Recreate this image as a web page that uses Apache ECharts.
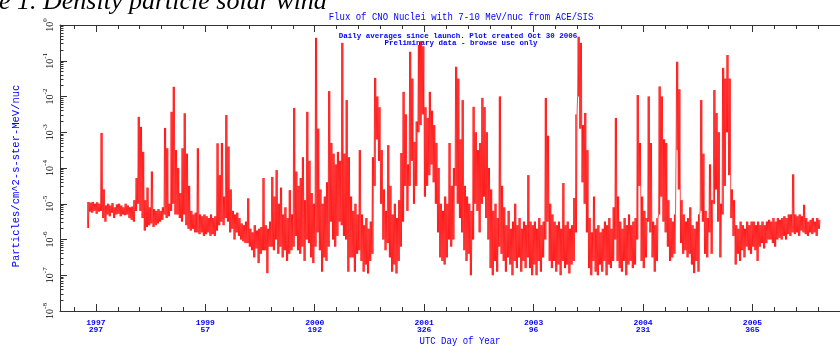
<!DOCTYPE html>
<html>
<head>
<meta charset="UTF-8">
<title>Flux of CNO Nuclei</title>
<script src="https://cdn.jsdelivr.net/npm/echarts@6.0.0/dist/echarts.min.js"></script>
<style>
    html, body { margin: 0; padding: 0; background: #fff; }
    #chart { width: 840px; height: 347px; }
</style>
</head>
<body>
<div id="chart"></div>
<script>
    // x unit = days, 500 is the first labelled tick
    var tickDays = [500, 1000, 1500, 2000, 2500, 3000, 3500];
    var tickYears = ['1997', '1999', '2000', '2001', '2003', '2004', '2005'];
    var tickDoy = ['297', '57', '192', '326', '96', '231', '365'];

    // log10 of daily flux, high / low per 10 day bin, first bin at day 460
    var binStart = 460;
    var binStep = 10;

    var hi1 = [-4.95,-4.97,-4.95,-5.0,-4.96,-5.0,-3.02,-4.6,-5.05,-5.0,
        -5.05,-4.98,-5.1,-5.02,-5.0,-5.05,-5.1,-5.0,-5.05,-5.1,
        -5.08,-4.9,-4.28,-2.57,-2.85,-3.55,-4.9,-4.55,-5.1,-4.1,
        -5.15,-5.2,-5.15,-5.2,-5.1,-2.88,-3.45,-5.0,-2.43,-1.73,
        -3.5,-4.0,-4.7,-3.45,-2.47,-3.6,-4.5,-5.2,-5.3,-5.25,
        -3.45,-5.3,-5.35,-5.3];
    var lo1 = [-5.68,-5.22,-5.25,-5.2,-5.28,-5.22,-5.2,-5.4,-5.5,-5.3,
        -5.35,-5.25,-5.4,-5.3,-5.28,-5.35,-5.3,-5.32,-5.3,-5.4,
        -5.45,-5.5,-5.2,-5.0,-5.2,-5.4,-5.75,-5.65,-5.6,-5.55,
        -5.65,-5.6,-5.55,-5.5,-5.45,-5.3,-5.4,-5.35,-5.2,-5.0,
        -5.3,-5.3,-5.4,-5.5,-5.3,-5.6,-5.7,-5.75,-5.7,-5.8,
        -5.8,-5.85,-5.8,-5.9];

    var hi2 = [-5.35,-5.4,-5.3,-5.4,-5.35,-3.31,-4.2,-3.3,-4.8,-2.52,
        -3.4,-4.6,-5.2,-5.3,-5.25,-5.4,-5.55,-5.6,-5.5,-4.85,
        -5.7,-5.8,-5.6,-5.75,-5.7,-5.65,-4.28,-5.6,-5.7,-5.5,
        -4.25,-4.8,-4.06,-5.0,-4.55,-5.3,-5.1,-5.4,-4.62,-5.3,
        -2.32,-4.1,-4.5,-4.28,-3.7,-4.9,-2.43,-3.8,-4.7,-5.0];
    var lo2 = [-5.85,-5.8,-5.9,-5.85,-5.9,-5.75,-5.6,-5.5,-5.6,-5.4,
        -5.5,-5.8,-5.7,-6.0,-5.8,-5.9,-6.0,-6.05,-6.1,-6.1,
        -6.2,-6.3,-6.5,-6.25,-6.66,-6.4,-6.3,-6.3,-6.94,-6.2,
        -6.2,-6.3,-6.0,-6.4,-6.2,-6.5,-6.3,-6.6,-6.4,-6.3,
        -6.2,-5.9,-6.3,-6.4,-6.2,-6.6,-6.0,-6.1,-6.5,-6.66];

    var hi3 = [-0.36,-2.9,-4.6,-5.0,-4.8,-4.4,-1.85,-3.3,-3.6,-3.9,
        -3.55,-3.8,-0.5,-3.6,-2.1,-3.7,-4.8,-5.2,-5.0,-5.3,
        -3.5,-5.3,-5.6,-5.4,-5.7,-5.5,-3.7,-1.48,-2.0,-2.3,
        -3.5,-4.6,-5.2,-3.36,-4.5,-5.3,-5.0,-5.4,-4.9,-3.58,
        -1.87,-2.5,-3.9,-0.75,-1.5,-3.27,-2.7,-0.56,-0.45,-0.6];
    var lo3 = [-6.2,-5.8,-6.3,-6.9,-6.5,-6.6,-6.2,-5.5,-6.0,-6.2,
        -5.9,-5.5,-5.6,-5.9,-6.0,-6.9,-6.5,-6.5,-6.9,-6.4,
        -6.3,-6.6,-6.9,-6.7,-6.95,-6.6,-6.4,-4.5,-3.2,-3.8,
        -5.0,-6.0,-6.3,-6.1,-6.5,-6.9,-6.7,-6.95,-6.6,-6.2,
        -5.5,-4.5,-5.2,-4.5,-3.8,-5.0,-4.5,-3.0,-2.8,-2.5];

    var hi4 = [-2.3,-2.6,-1.87,-2.4,-2.8,-3.3,-4.0,-5.0,-5.2,-4.8,
        -5.0,-3.3,-4.5,-4.0,-1.17,-1.5,-3.2,-2.1,-4.5,-4.8,
        -5.0,-5.2,-2.29,-3.0,-3.5,-3.3,-2.04,-2.3,-3.0,-4.0,
        -4.6,-5.2,-5.0,-5.4,-2.0,-4.5,-5.1,-5.6,-5.2,-5.7,
        -5.5,-5.0,-5.6,-5.4,-5.7,-5.5,-5.6,-4.2,-5.5,-5.6];
    var lo4 = [-4.8,-4.5,-4.2,-3.9,-4.4,-5.0,-5.8,-6.5,-6.6,-6.7,
        -6.5,-6.0,-6.2,-6.0,-4.5,-5.0,-5.4,-5.8,-6.3,-6.6,
        -6.4,-7.0,-6.0,-5.0,-5.2,-5.8,-5.0,-4.8,-5.4,-6.0,
        -6.8,-7.0,-6.6,-6.9,-6.2,-6.4,-6.6,-6.9,-6.5,-6.7,
        -7.0,-6.6,-6.8,-6.5,-6.9,-6.6,-6.8,-6.5,-6.8,-7.0];

    var hi5 = [-5.5,-5.7,-5.4,-5.6,-5.5,-2.04,-3.1,-5.0,-5.3,-5.5,
        -5.6,-5.5,-5.7,-4.42,-5.6,-5.5,-5.7,-5.6,-4.84,-2.5,
        -0.33,-0.5,-2.8,-2.46,-3.5,-5.4,-5.8,-4.8,-5.7,-5.6,
        -5.8,-5.7,-5.5,-5.6,-5.4,-5.7,-5.1,-2.6,-4.8,-5.5,
        -5.7,-5.4,-5.6,-5.3,-5.6,-5.5,-5.4,-1.96,-3.3,-4.8];
    var lo5 = [-6.7,-7.0,-6.6,-6.9,-6.5,-6.0,-5.5,-6.6,-6.8,-6.6,
        -6.9,-6.7,-7.0,-6.6,-6.8,-6.7,-6.95,-6.7,-6.6,-5.8,
        -2.0,-2.9,-4.4,-5.0,-5.8,-6.8,-7.0,-6.6,-6.9,-7.0,
        -6.7,-6.9,-6.6,-7.0,-6.7,-6.8,-6.6,-6.0,-6.6,-6.8,
        -6.9,-6.6,-7.0,-6.7,-6.6,-6.8,-6.7,-6.0,-4.5,-6.6];

    var hi6 = [-5.2,-5.4,-2.0,-3.3,-5.5,-5.6,-5.4,-1.72,-2.0,-3.2,
        -3.3,-4.9,-5.4,-5.5,-5.3,-1.03,-1.8,-4.9,-5.3,-5.5,
        -5.4,-5.1,-5.6,-5.7,-5.5,-5.3,-2.1,-3.6,-5.2,-5.4,
        -3.9,-4.9,-1.82,-2.46,-3.0,-5.0,-1.2,-1.5,-0.84,-1.5,
        -4.6,-4.9,-5.6,-5.7,-5.5,-5.6,-5.7,-5.5,-5.6,-5.5];
    var lo6 = [-6.8,-6.5,-5.5,-5.8,-6.5,-6.9,-6.6,-5.3,-4.8,-5.5,
        -5.8,-6.2,-6.6,-6.5,-6.4,-3.5,-4.6,-6.1,-6.4,-6.3,
        -6.5,-6.4,-6.7,-6.94,-6.6,-6.9,-5.2,-5.5,-6.4,-6.5,
        -5.8,-6.4,-5.0,-4.6,-5.5,-6.5,-5.3,-4.5,-3.0,-4.2,
        -5.4,-5.9,-6.7,-6.4,-6.6,-6.3,-6.5,-6.2,-6.3,-6.4];

    var hi7 = [-5.5,-5.6,-5.5,-5.6,-5.5,-5.6,-5.5,-5.45,-5.5,-5.4,
        -5.5,-5.4,-5.45,-5.4,-5.35,-5.4,-5.3,-5.3,-4.18,-5.3,
        -5.35,-5.3,-5.35,-5.03,-5.4,-5.5,-5.45,-5.4,-5.5,-5.4,-5.45];
    var lo7 = [-6.2,-6.3,-6.6,-6.2,-6.1,-6.25,-6.1,-6.0,-6.0,-6.1,
        -6.2,-6.0,-5.95,-6.0,-5.9,-6.0,-5.85,-5.9,-5.8,-5.85,
        -5.8,-5.9,-5.75,-5.8,-5.85,-5.9,-5.8,-5.85,-5.8,-5.9,-5.7];

    var hiAll = hi1.concat(hi2, hi3, hi4, hi5, hi6, hi7);
    var loAll = lo1.concat(lo2, lo3, lo4, lo5, lo6, lo7);

    // each bin swings between its low and high level twice (daily scatter)
    var fluxData = [];
    for (var i = 0; i < hiAll.length; i++) {
        var d = binStart + i * binStep;
        var lo = Math.pow(10, loAll[i]);
        var hi = Math.pow(10, hiAll[i]);
        fluxData.push([d + 1, lo], [d + 3.5, hi], [d + 6, lo], [d + 8.5, hi]);
    }

    // tick positions
    var minorDays = [];
    for (var m = 400; m <= 3800; m += 100) {
        if (m % 500 !== 0) minorDays.push(m);
    }
    var decades = [];
    var minorDecades = [];
    for (var k = -8; k <= 0; k++) {
        decades.push(Math.pow(10, k));
        if (k < 0) {
            for (var j = 2; j <= 9; j++) minorDecades.push(j * Math.pow(10, k));
        }
    }

    var blue = '#0000ff';
    var axisCol = '#333';
    var xMin = 336, xMax = 3900;

    var chart = echarts.init(document.getElementById('chart'));
    chart.setOption({
        animation: false,
        backgroundColor: '#fff',
        grid: { left: 60, top: 25, width: 784, height: 286 },
        xAxis: [
            {
                type: 'value', position: 'bottom', min: xMin, max: xMax,
                axisLine: { show: true, lineStyle: { color: axisCol, width: 1 } },
                axisTick: { show: true, inside: true, length: 7, customValues: tickDays, lineStyle: { color: axisCol } },
                axisLabel: {
                    customValues: tickDays, margin: 8,
                    formatter: function (v) {
                        var n = tickDays.indexOf(v);
                        return n < 0 ? '' : '{y|' + tickYears[n] + '}\n{y|' + tickDoy[n] + '}';
                    },
                    rich: { y: { color: blue, fontSize: 8, fontWeight: 'bold', fontFamily: 'Liberation Mono', lineHeight: 7 } }
                },
                splitLine: { show: false }
            },
            {
                type: 'value', position: 'bottom', min: xMin, max: xMax,
                axisLine: { show: false },
                axisTick: { show: true, inside: true, length: 4, customValues: minorDays, lineStyle: { color: axisCol } },
                axisLabel: { show: false },
                splitLine: { show: false }
            },
            {
                type: 'value', position: 'top', min: xMin, max: xMax,
                axisLine: { show: true, lineStyle: { color: axisCol, width: 1 } },
                axisTick: { show: true, inside: true, length: 7, customValues: tickDays, lineStyle: { color: axisCol } },
                axisLabel: { show: false },
                splitLine: { show: false }
            },
            {
                type: 'value', position: 'top', min: xMin, max: xMax,
                axisLine: { show: false },
                axisTick: { show: true, inside: true, length: 4, customValues: minorDays, lineStyle: { color: axisCol } },
                axisLabel: { show: false },
                splitLine: { show: false }
            }
        ],
        yAxis: [
            {
                type: 'log', logBase: 10, min: 1e-8, max: 1, position: 'left',
                axisLine: { show: true, lineStyle: { color: axisCol, width: 1 } },
                axisTick: { show: true, inside: true, length: 7, customValues: decades, lineStyle: { color: axisCol } },
                axisLabel: {
                    customValues: decades, rotate: 90, margin: 5,
                    formatter: function (v) {
                        var e = Math.round(Math.log(v) / Math.LN10);
                        return '{a|10}{b|' + e + '}';
                    },
                    rich: {
                        a: { fontSize: 10, fontFamily: 'Liberation Serif', color: '#000', lineHeight: 13, verticalAlign: 'bottom' },
                        b: { fontSize: 7, fontFamily: 'Liberation Serif', color: '#000', lineHeight: 13, verticalAlign: 'top' }
                    }
                },
                splitLine: { show: false }
            },
            {
                type: 'log', logBase: 10, min: 1e-8, max: 1, position: 'left',
                axisLine: { show: false },
                axisTick: { show: true, inside: true, length: 3.5, customValues: minorDecades, lineStyle: { color: axisCol } },
                axisLabel: { show: false },
                splitLine: { show: false }
            }
        ],
        graphic: [
            {
                type: 'text', x: -1, y: 15, silent: true,
                style: { text: 'e 1. Density particle solar wind', font: 'italic 26px "Liberation Serif"', fill: '#000', textAlign: 'left', textVerticalAlign: 'bottom' }
            },
            {
                type: 'text', x: 461, y: 17, scaleY: 1.2, silent: true,
                style: { text: 'Flux of CNO Nuclei with 7-10 MeV/nuc from ACE/SIS', font: '9px "Liberation Mono"', fill: blue, textAlign: 'center', textVerticalAlign: 'middle' }
            },
            {
                type: 'text', x: 458, y: 36, silent: true,
                style: { text: 'Daily averages since launch. Plot created Oct 30 2006', font: 'bold 7.5px "Liberation Mono"', fill: blue, textAlign: 'center', textVerticalAlign: 'middle' }
            },
            {
                type: 'text', x: 461, y: 43.5, silent: true,
                style: { text: 'Preliminary data - browse use only', font: 'bold 7.5px "Liberation Mono"', fill: blue, textAlign: 'center', textVerticalAlign: 'middle' }
            },
            {
                type: 'text', x: 460, y: 341, scaleY: 1.2, silent: true,
                style: { text: 'UTC Day of Year', font: '9px "Liberation Mono"', fill: blue, textAlign: 'center', textVerticalAlign: 'middle' }
            },
            {
                type: 'text', x: 16, y: 176, rotation: Math.PI / 2, silent: true,
                style: { text: 'Particles/cm^2-s-ster-MeV/nuc', font: '10.5px "Liberation Mono"', fill: blue, textAlign: 'center', textVerticalAlign: 'middle' }
            }
        ],
        series: [
            {
                name: 'CNO 7-10 MeV/nuc',
                type: 'line',
                xAxisIndex: 0,
                yAxisIndex: 0,
                data: fluxData,
                showSymbol: false,
                silent: true,
                lineStyle: { color: '#ff0000', width: 0.7 }
            }
        ]
    });
</script>
</body>
</html>
